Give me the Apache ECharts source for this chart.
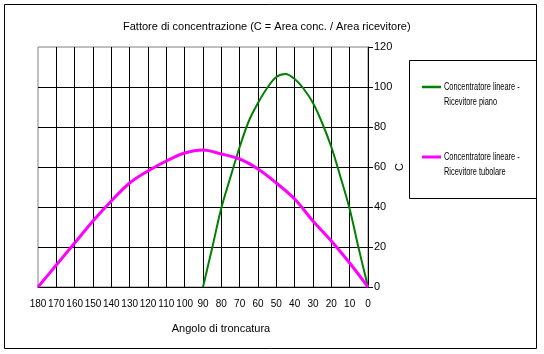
<!DOCTYPE html>
<html><head><meta charset="utf-8">
<script src="https://cdn.jsdelivr.net/npm/echarts@6/dist/echarts.min.js"></script>
<style>html,body{margin:0;padding:0;background:#fff}#c{width:544px;height:354px}</style>
</head><body><div id="c"></div>
<script>
const titleText = "Fattore di concentrazione (C = Area conc. / Area ricevitore)";
const xName = "Angolo di troncatura";
const yName = "C";
const seriesNames = ["Concentratore lineare -\nRicevitore piano", "Concentratore lineare -\nRicevitore tubolare"];
const seriesColors = ["#008000", "#ff00ff"];
const pianoAngles = [90, 85, 80, 75, 70, 65, 60, 55, 50, 45, 40, 35, 30, 25, 20, 15, 10, 5, 0];
const pianoValues = [0, 19.5, 39.5, 55, 70, 83, 92, 99.5, 105, 106.5, 104, 99, 92, 82, 70, 55, 39, 19, 0];
const tuboAngles = [180, 170, 160, 150, 140, 130, 120, 110, 100, 90, 80, 70, 60, 50, 40, 30, 20, 10, 0];
const tuboValues = [0, 11, 22, 33, 43, 52, 58, 63, 67, 68.5, 66.5, 64, 59, 52, 44, 33, 23, 12, 0];

const FONT = "Liberation Sans, Arial, sans-serif";
const chart = echarts.init(document.getElementById('c'), null, {renderer: 'canvas'});
const pair = (a, v) => a.map((x, i) => [x, v[i]]);

const legendGraphics = [];
seriesNames.forEach((name, i) => {
  const y = 87 + i * 70;
  legendGraphics.push({type: 'line', shape: {x1: 422, y1: y, x2: 441, y2: y}, style: {stroke: seriesColors[i], lineWidth: i === 0 ? 2.5 : 3}, silent: true});
  name.split('\n').forEach((ln, j) => {
    legendGraphics.push({type: 'text', x: 444, y: y + j * 15, scaleX: 0.74, scaleY: 1,
      style: {text: ln, fontSize: 10, fontFamily: FONT, fill: '#000', textVerticalAlign: 'middle', verticalAlign: 'middle', align: 'left'}, silent: true});
  });
});

chart.setOption({
  animation: false,
  backgroundColor: '#fff',
  textStyle: {fontFamily: FONT},
  title: {text: titleText, left: 118, top: 16, textStyle: {fontSize: 11, fontWeight: 'normal', color: '#000', fontFamily: FONT}},
  grid: {left: 38, top: 47, width: 330, height: 240, show: true, borderColor: '#808080', borderWidth: 1, backgroundColor: 'transparent'},
  xAxis: {
    type: 'value', min: 0, max: 180, interval: 10, inverse: true,
    name: xName, nameLocation: 'middle', nameGap: 36, nameMoveOverlap: false,
    nameTextStyle: {fontSize: 11, color: '#000', fontFamily: FONT, padding: [0, 0, 0, 36]},
    axisLine: {show: true, lineStyle: {color: '#000', width: 1}},
    axisTick: {show: false},
    axisLabel: {fontSize: 10, color: '#000', margin: 12, fontFamily: FONT},
    splitLine: {show: true, showMaxLine: false, lineStyle: {color: '#000', width: 1}}
  },
  yAxis: {
    type: 'value', min: 0, max: 120, interval: 20, position: 'right',
    name: yName, nameLocation: 'middle', nameGap: 26, nameRotate: 90, nameMoveOverlap: false,
    nameTextStyle: {fontSize: 11, color: '#000', fontFamily: FONT},
    axisLine: {show: true, lineStyle: {color: '#000', width: 1}},
    axisTick: {show: true, length: 5, lineStyle: {color: '#000'}},
    axisLabel: {fontSize: 11, color: '#000', margin: 6, fontFamily: FONT},
    splitLine: {show: true, showMaxLine: false, lineStyle: {color: '#000', width: 1}}
  },
  legend: {show: false},
  graphic: [
    {type: 'rect', shape: {x: 4.5, y: 4.5, width: 532, height: 344}, style: {fill: 'none', stroke: '#000', lineWidth: 1}, silent: true, z: -1},
    {type: 'rect', shape: {x: 409.5, y: 60.5, width: 127, height: 138}, style: {fill: 'none', stroke: '#000', lineWidth: 1}, silent: true}
  ].concat(legendGraphics),
  series: [
    {name: seriesNames[0], type: 'line', data: pair(pianoAngles, pianoValues), smooth: 0.35, showSymbol: false,
     lineStyle: {color: seriesColors[0], width: 2}, itemStyle: {color: seriesColors[0]}},
    {name: seriesNames[1], type: 'line', data: pair(tuboAngles, tuboValues), smooth: 0.35, showSymbol: false,
     lineStyle: {color: seriesColors[1], width: 3}, itemStyle: {color: seriesColors[1]}}
  ]
});
</script></body></html>
